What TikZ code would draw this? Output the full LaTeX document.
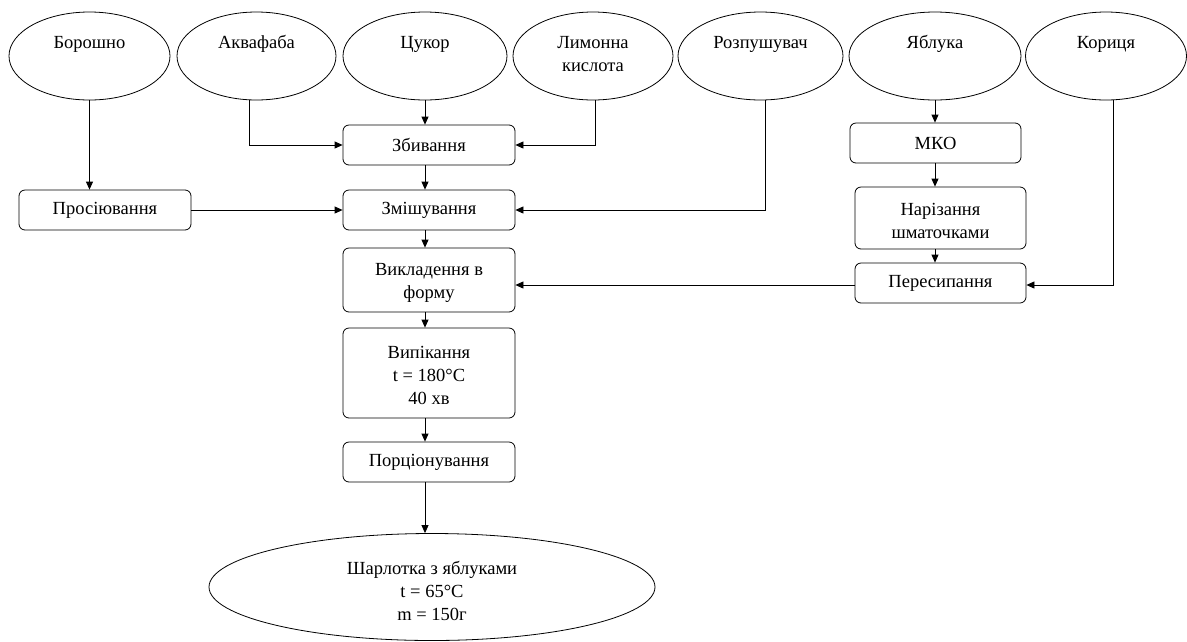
\documentclass[tikz,border=0pt]{standalone}
\usepackage{fontspec}
\setmainfont{Liberation Serif}
\usetikzlibrary{arrows.meta,shapes.geometric}

\begin{document}
\begin{tikzpicture}[x=1pt,y=-1pt,
  font=\fontsize{18.5}{23}\selectfont,
  line width=0.8pt,
  >={Triangle[length=8pt,width=7pt]},
  ingr/.style={draw,ellipse,minimum height=88pt,align=center,
    text height=13pt,text depth=29pt,inner sep=0pt},
  op/.style={draw,rounded corners=6pt,minimum width=172pt,minimum height=40pt,
    align=center,inner sep=0pt}]
  \useasboundingbox (0,0) rectangle (1187,641);

  % inputs
  \node[ingr,minimum width=161pt] (flour) at (89.5,56) {Борошно};
  \node[ingr,minimum width=159pt] (aqua) at (256.5,56) {Аквафаба};
  \node[ingr,minimum width=164pt] (sugar) at (425,56) {Цукор};
  \node[ingr,minimum width=160pt,text height=36pt,text depth=6pt] (citric) at (593,56) {Лимонна\\кислота};
  \node[ingr,minimum width=165pt] (leaven) at (760.5,56) {Розпушувач};
  \node[ingr,minimum width=172pt] (apple) at (935,56) {Яблука};
  \node[ingr,minimum width=161pt] (cinn) at (1106,56) {Кориця};

  % operations
  \node[op] (sift) at (105,210) {Просіювання};
  \node[op] (whip) at (429,145) {Збивання};
  \node[op] (mix) at (429,210) {Змішування};
  \node[op,minimum height=64pt,text height=41pt] (mould) at (429,280) {Викладення в\\форму};
  \node[op,minimum height=90pt,text height=63pt] (bake) at (429,373) {Випікання\\t = 180°C\\40 хв};
  \node[op] (portion) at (429,462) {Порціонування};
  \node[op,minimum width=171pt] (mko) at (935.5,143) {МКО};
  \node[op,minimum width=171pt,minimum height=62pt,text height=41pt] (slice) at (940.5,218) {Нарізання\\шматочками};
  \node[op,minimum width=171pt] (pour) at (940.5,283) {Пересипання};

  \node[draw,ellipse,minimum width=446pt,minimum height=107pt,align=center,text height=68pt] (cake) at (432,587)
    {Шарлотка з яблуками\\t = 65°C\\m = 150г};

  % arrows
  \draw[->] (flour.south) -- (flour.south |- sift.north);
  \draw[->] ([xshift=-7pt]aqua.south) |- (whip.west);
  \draw[->] (sugar.south) -- (sugar.south |- whip.north);
  \draw[->] ([xshift=2pt]citric.south) |- (whip.east);
  \draw[->] (sugar.south |- whip.south) -- (sugar.south |- mix.north);
  \draw[->] (sift.east) -- (mix.west);
  \draw[->] ([xshift=5pt]leaven.south) |- (mix.east);
  \draw[->] (sugar.south |- mix.south) -- (sugar.south |- mould.north);
  \draw[->] (apple.south) -- (apple.south |- mko.north);
  \draw[->] (apple.south |- mko.south) -- (apple.south |- slice.north);
  \draw[->] (apple.south |- slice.south) -- (apple.south |- pour.north);
  \draw[->] ([xshift=7pt]cinn.south) |- ([yshift=-2pt]pour.east);
  \draw[->] ([yshift=-2pt]pour.west) -- ([yshift=-2pt]pour.west -| mould.east);
  \draw[->] (sugar.south |- mould.south) -- (sugar.south |- bake.north);
  \draw[->] (sugar.south |- bake.south) -- (sugar.south |- portion.north);
  \draw[->] (sugar.south |- portion.south) -- (sugar.south |- cake.north);
\end{tikzpicture}
\end{document}
